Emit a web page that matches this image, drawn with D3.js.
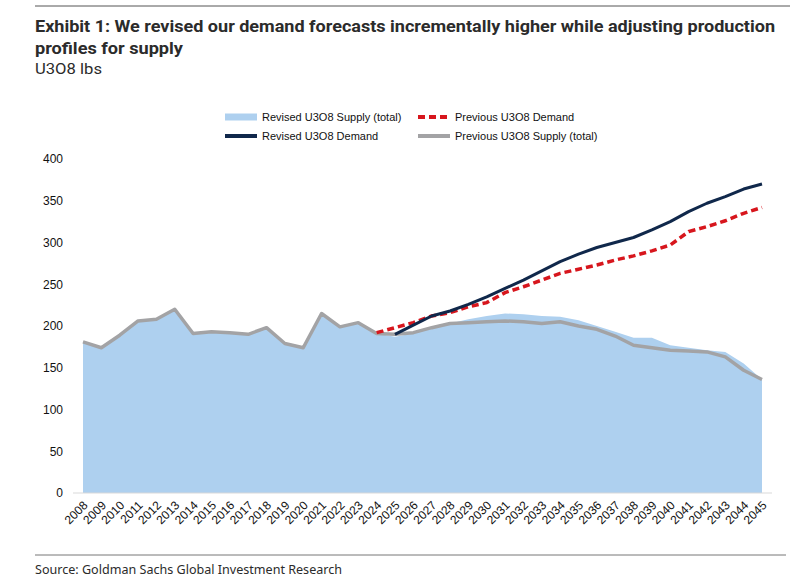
<!DOCTYPE html>
<html>
<head>
<meta charset="utf-8">
<script src="https://cdn.jsdelivr.net/npm/d3@7"></script>
<style>
  body { margin: 0; background: #fff; }
  svg { display: block; }
</style>
</head>
<body>
<svg id="chart" width="811" height="583"></svg>
<script>
var years = d3.range(2008, 2046);
var yTicks = [0, 50, 100, 150, 200, 250, 300, 350, 400];

var revisedSupply = [181, 174, 189, 206, 208, 220, 191, 193, 192, 190, 198, 179, 174, 215, 199, 204, 191,
  187, 191, 197, 203, 208, 212, 215, 214, 212, 211, 207, 200, 193, 186, 186, 177, 174, 171, 169, 155, 136];
var previousSupply = [181, 174, 189, 206, 208, 220, 191, 193, 192, 190, 198, 179, 174, 215, 199, 204, 191,
  190, 192, 198, 203, 204, 205, 206, 205, 203, 205, 200, 196, 188, 177, 174, 171, 170, 169, 163, 147, 136];
// demand series only start in the forecast years (null = no value)
var revisedDemand = [null, null, null, null, null, null, null, null, null, null, null, null, null, null, null, null, null,
  190, 201, 212, 218, 226, 235, 245, 255, 266, 277, 286, 294, 300, 306, 315, 325, 337, 347, 355, 364, 370];
var previousDemand = [null, null, null, null, null, null, null, null, null, null, null, null, null, null, null, null, 192,
  198, 204, 212, 216, 223, 228, 240, 247, 255, 263, 268, 273, 279, 284, 290, 297, 313, 319, 326, 335, 342];

var colors = {
  area: "#aed0ef",
  navy: "#10284b",
  red: "#d7161d",
  gray: "#a3a3a5",
  text: "#2b2b2b"
};

// Roboto is the narrowest installed face, closest to the condensed house font
var headFont = "Roboto, 'Noto Sans', sans-serif";

var svg = d3.select("#chart");

var x = d3.scalePoint().domain(years).range([83, 762]);
var y = d3.scaleLinear().domain([0, 400]).range([493, 159]);

// header
svg.append("line").attr("x1", 35).attr("x2", 790).attr("y1", 6).attr("y2", 6)
  .attr("stroke", "#555").attr("stroke-width", 1);

var head = svg.append("g").attr("font-family", headFont).attr("fill", colors.text);
head.append("text").attr("x", 35).attr("y", 32)
  .attr("font-size", 16).attr("font-weight", "bold")
  .attr("textLength", 740).attr("lengthAdjust", "spacingAndGlyphs")
  .text("Exhibit 1: We revised our demand forecasts incrementally higher while adjusting production");
head.append("text").attr("x", 35).attr("y", 54)
  .attr("font-size", 16).attr("font-weight", "bold")
  .attr("textLength", 148).attr("lengthAdjust", "spacingAndGlyphs")
  .text("profiles for supply");
head.append("text").attr("x", 35).attr("y", 74)
  .attr("font-size", 15)
  .attr("textLength", 67).attr("lengthAdjust", "spacingAndGlyphs")
  .text("U3O8 lbs");

// legend
var legendItems = [
  {label: "Revised U3O8 Supply (total)", color: colors.area, col: 0, row: 0, width: 7},
  {label: "Previous U3O8 Demand", color: colors.red, col: 1, row: 0, width: 4, dash: "7,4"},
  {label: "Revised U3O8 Demand", color: colors.navy, col: 0, row: 1, width: 4},
  {label: "Previous U3O8 Supply (total)", color: colors.gray, col: 1, row: 1, width: 4}
];
var legend = svg.append("g").attr("font-family", "'Liberation Sans', Arial, sans-serif")
  .attr("font-size", 11).attr("fill", "#111");
legendItems.forEach(function(d){
  var lx = d.col ? 418 : 225;
  var ly = d.row ? 136 : 117;
  legend.append("line").attr("x1", lx).attr("x2", lx + 32).attr("y1", ly).attr("y2", ly)
    .attr("stroke", d.color).attr("stroke-width", d.width)
    .attr("stroke-dasharray", d.dash || null);
  legend.append("text").attr("x", lx + 37).attr("y", ly + 4).text(d.label);
});

// plot
var plot = svg.append("g");

var area = d3.area()
  .x(function(d, i){ return x(years[i]); })
  .y0(y(0))
  .y1(function(d){ return y(d); });

var line = d3.line()
  .defined(function(d){ return d != null; })
  .x(function(d, i){ return x(years[i]); })
  .y(function(d){ return y(d); });

plot.append("path").datum(revisedSupply).attr("d", area).attr("fill", colors.area);

// x axis baseline
plot.append("line").attr("x1", 73).attr("x2", 772).attr("y1", y(0)).attr("y2", y(0))
  .attr("stroke", "#d9d9d9").attr("stroke-width", 1);

plot.append("path").datum(previousSupply).attr("d", line)
  .attr("fill", "none").attr("stroke", colors.gray).attr("stroke-width", 3.5)
  .attr("stroke-linejoin", "round");
plot.append("path").datum(previousDemand).attr("d", line)
  .attr("fill", "none").attr("stroke", colors.red).attr("stroke-width", 3.5)
  .attr("stroke-dasharray", "7,4");
plot.append("path").datum(revisedDemand).attr("d", line)
  .attr("fill", "none").attr("stroke", colors.navy).attr("stroke-width", 3)
  .attr("stroke-linejoin", "round");

// axes
var yAxis = svg.append("g").attr("transform", "translate(63,0)")
  .call(d3.axisLeft(y).tickValues(yTicks).tickSize(0).tickPadding(0));
yAxis.select(".domain").remove();
yAxis.selectAll("text").attr("font-family", "'Liberation Sans', Arial, sans-serif")
  .attr("font-size", 12).attr("fill", "#111");

var xAxis = svg.append("g").attr("transform", "translate(0," + y(0) + ")")
  .call(d3.axisBottom(x).tickSize(0).tickPadding(0));
xAxis.select(".domain").remove();
xAxis.selectAll("text")
  .attr("font-family", "'Liberation Sans', Arial, sans-serif")
  .attr("font-size", 12).attr("fill", "#111")
  .attr("text-anchor", "end")
  .attr("dy", null).attr("y", 0)
  .attr("transform", "translate(5,13) rotate(-45)");

// footer
svg.append("line").attr("x1", 35).attr("x2", 786).attr("y1", 555).attr("y2", 555)
  .attr("stroke", "#777").attr("stroke-width", 1);
svg.append("text").attr("x", 35).attr("y", 574)
  .attr("font-family", "'Noto Sans', sans-serif").attr("font-size", 13).attr("fill", colors.text)
  .attr("textLength", 307).attr("lengthAdjust", "spacingAndGlyphs")
  .text("Source: Goldman Sachs Global Investment Research");
</script>
</body>
</html>
